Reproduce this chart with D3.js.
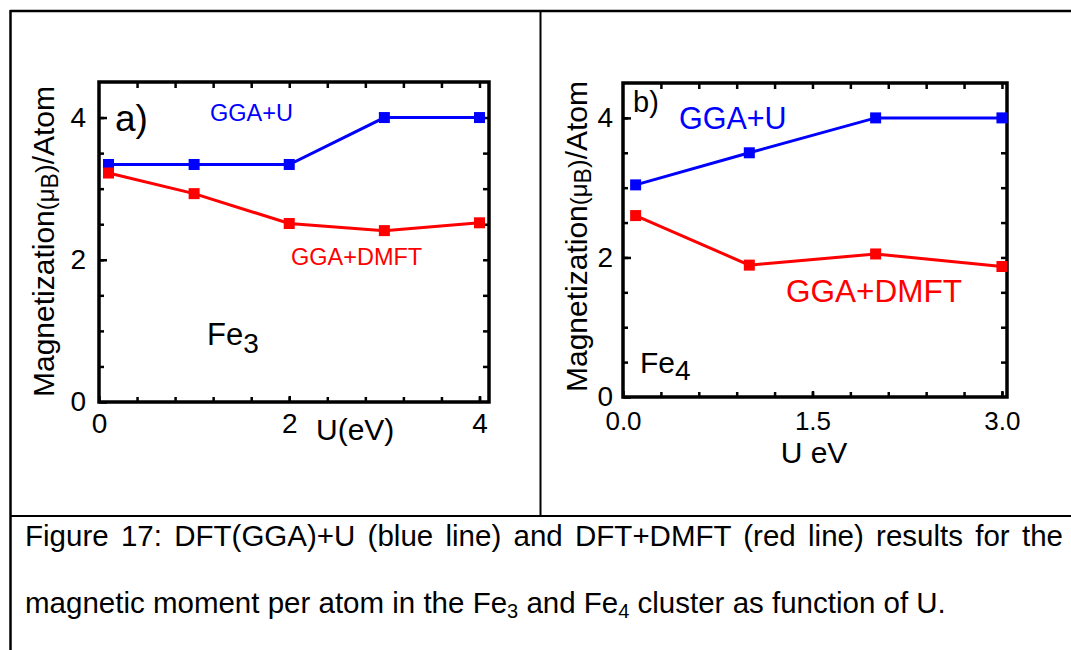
<!DOCTYPE html>
<html>
<head>
<meta charset="utf-8">
<script src="https://cdn.jsdelivr.net/npm/d3@7"></script>
<style>
  html, body { margin: 0; padding: 0; background: #fff; }
  svg { display: block; }
  text { font-family: "Liberation Sans", Arial, sans-serif; }
</style>
</head>
<body>
<svg id="fig" width="1071" height="650"></svg>
<script>
// U values (eV) and magnetic moments per atom (μB)
const uFe3 = [0.1, 1, 2, 3, 4];
const ggaUFe3 = [3.34, 3.34, 3.34, 4.0, 4.0];
const dmftFe3 = [3.22, 2.93, 2.51, 2.41, 2.52];

const uFe4 = [0.1, 1, 2, 3];
const ggaUFe4 = [3.04, 3.5, 4.0, 4.0];
const dmftFe4 = [2.6, 1.89, 2.05, 1.87];

// axis ticks
const xMajorFe3 = [0, 2, 4];
const xMinorFe3 = [0.4, 0.8, 1.2, 1.6, 2.0, 2.4, 2.8, 3.2, 3.6, 4.0];
const xMajorFe4 = [0, 1.5, 3.0];
const xMinorFe4 = [0.3, 0.6, 0.9, 1.2, 1.5, 1.8, 2.1, 2.4, 2.7, 3.0];
const yMajor = [0, 2, 4];
const yMinor = [0.5, 1, 1.5, 2, 2.5, 3, 3.5, 4];

const BLUE = "#0000ff", RED = "#ff0000";
const svg = d3.select("#fig");

// table frame around the figure and caption
const frame = svg.append("g").attr("stroke", "#000").attr("fill", "none");
frame.append("line").attr("x1", 10).attr("x2", 1071).attr("y1", 11).attr("y2", 11).attr("stroke-width", 2.5);
frame.append("line").attr("x1", 10.5).attr("x2", 10.5).attr("y1", 10).attr("y2", 650).attr("stroke-width", 2.5);
frame.append("line").attr("x1", 540.5).attr("x2", 540.5).attr("y1", 11).attr("y2", 516).attr("stroke-width", 2);
frame.append("line").attr("x1", 10).attr("x2", 1071).attr("y1", 516).attr("y2", 516).attr("stroke-width", 2);

function panel(opt) {
  const g = svg.append("g");
  const x = d3.scaleLinear().domain(opt.xDomain).range([opt.left, opt.right]);
  const y = d3.scaleLinear().domain([0, 4.5]).range([opt.bottom, opt.top]);

  const clean = sel => sel.select(".domain").remove();

  // minor ticks on all four sides, pointing inward
  g.append("g").attr("transform", `translate(0,${opt.bottom})`)
    .call(d3.axisBottom(x).tickValues(opt.xMinor).tickSize(-5).tickSizeOuter(0).tickFormat(""))
    .call(clean);
  g.append("g").attr("transform", `translate(0,${opt.top})`)
    .call(d3.axisTop(x).tickValues(opt.xMinor).tickSize(-6).tickSizeOuter(0).tickFormat(""))
    .call(clean);
  g.append("g").attr("transform", `translate(${opt.left},0)`)
    .call(d3.axisLeft(y).tickValues(yMinor).tickSize(-5).tickSizeOuter(0).tickFormat(""))
    .call(clean);
  g.append("g").attr("transform", `translate(${opt.right},0)`)
    .call(d3.axisRight(y).tickValues(yMinor).tickSize(-6).tickSizeOuter(0).tickFormat(""))
    .call(clean);

  // labelled axes
  const xa = g.append("g").attr("transform", `translate(0,${opt.bottom})`)
    .call(d3.axisBottom(x).tickValues(opt.xMajor).tickSize(-6).tickSizeOuter(0)
      .tickPadding(opt.xPad).tickFormat(opt.xFormat))
    .call(clean);
  xa.selectAll("text").attr("font-size", opt.xTickSize).attr("fill", "#000");
  const ya = g.append("g").attr("transform", `translate(${opt.left},0)`)
    .call(d3.axisLeft(y).tickValues(yMajor).tickSize(-8).tickSizeOuter(0)
      .tickPadding(opt.yPad).tickFormat(d3.format("d")))
    .call(clean);
  ya.selectAll("text").attr("font-size", 28).attr("fill", "#000");
  g.selectAll(".tick line").attr("stroke", "#000").attr("stroke-width", 2.5);
  g.selectAll(".tick text").attr("font-family", "Liberation Sans, Arial, sans-serif");

  // plot frame
  g.append("rect")
    .attr("x", opt.left).attr("y", opt.top)
    .attr("width", opt.right - opt.left).attr("height", opt.bottom - opt.top)
    .attr("fill", "none").attr("stroke", "#000").attr("stroke-width", 3.5);

  // data series
  const line = d3.line().x(d => x(d[0])).y(d => y(d[1]));
  [[opt.ggaU, BLUE], [opt.dmft, RED]].forEach(([vals, color]) => {
    const pts = opt.u.map((u, i) => [u, vals[i]]);
    g.append("path").datum(pts).attr("d", line)
      .attr("fill", "none").attr("stroke", color).attr("stroke-width", 3);
    g.selectAll(null).data(pts).enter().append("rect")
      .attr("x", d => x(d[0]) - 5.5).attr("y", d => y(d[1]) - 5.5)
      .attr("width", 11).attr("height", 11).attr("fill", color);
  });

  // y-axis title
  const yt = g.append("text")
    .attr("transform", `translate(${opt.yTitleX},${opt.bottom - 5}) rotate(-90)`)
    .attr("font-size", 30).attr("fill", "#000");
  yt.append("tspan").text("Magnetization");
  yt.append("tspan").attr("font-size", 24).text("(μ");
  yt.append("tspan").attr("font-size", 23).attr("dy", 4).text("B");
  yt.append("tspan").attr("font-size", 26).attr("dy", -4).text(")");
  yt.append("tspan").text("/Atom");

  return { g, x, y };
}

// a) Fe3 cluster
const pa = panel({
  left: 99, right: 489, top: 82, bottom: 402,
  xDomain: [0, 4.1], xMajor: xMajorFe3, xMinor: xMinorFe3,
  xFormat: d3.format("d"), xTickSize: 28, xPad: 11, yPad: 13,
  u: uFe3, ggaU: ggaUFe3, dmft: dmftFe3, yTitleX: 54
});
pa.g.append("text").attr("x", 115).attr("y", 131).attr("font-size", 37).text("a)");
pa.g.append("text").attr("x", 210).attr("y", 121).attr("font-size", 23.5).attr("fill", BLUE).text("GGA+U");
pa.g.append("text").attr("x", 291).attr("y", 265).attr("font-size", 23.5).attr("fill", RED).text("GGA+DMFT");
const fe3 = pa.g.append("text").attr("x", 207).attr("y", 345).attr("font-size", 31);
fe3.append("tspan").text("Fe");
fe3.append("tspan").attr("dy", 8).attr("font-size", 28).text("3");
pa.g.append("text").attr("x", 316).attr("y", 440).attr("font-size", 30).text("U(eV)");

// b) Fe4 cluster
const pb = panel({
  left: 623, right: 1007, top: 83, bottom: 397,
  xDomain: [0, 3.04], xMajor: xMajorFe4, xMinor: xMinorFe4,
  xFormat: d3.format(".1f"), xTickSize: 26, xPad: 15, yPad: 10,
  u: uFe4, ggaU: ggaUFe4, dmft: dmftFe4, yTitleX: 587
});
pb.g.append("text").attr("x", 633).attr("y", 112).attr("font-size", 29).text("b)");
pb.g.append("text").attr("x", 679).attr("y", 129).attr("font-size", 30.5).attr("fill", BLUE).text("GGA+U");
pb.g.append("text").attr("x", 786).attr("y", 302).attr("font-size", 31.5).attr("fill", RED).text("GGA+DMFT");
const fe4 = pb.g.append("text").attr("x", 640).attr("y", 373).attr("font-size", 30);
fe4.append("tspan").text("Fe");
fe4.append("tspan").attr("dy", 7).attr("font-size", 28).text("4");
pb.g.append("text").attr("x", 814).attr("y", 463).attr("text-anchor", "middle").attr("font-size", 30).text("U eV");

// caption: first line justified across the cell, second line left-aligned
const capLeft = 25, capRight = 1063, capSize = 29.5;
const line1 = svg.append("text").attr("x", capLeft).attr("y", 546).attr("font-size", capSize).attr("fill", "#000")
  .text("Figure 17: DFT(GGA)+U (blue line) and DFT+DMFT (red line) results for the");
const natural = line1.node().getComputedTextLength();
const gaps = line1.text().split(" ").length - 1;
line1.attr("word-spacing", Math.max(0, (capRight - capLeft - natural) / gaps));

const line2 = svg.append("text").attr("x", capLeft).attr("y", 613).attr("font-size", capSize).attr("fill", "#000");
line2.append("tspan").text("magnetic moment per atom in the Fe");
line2.append("tspan").attr("font-size", 20).attr("dy", 5).text("3");
line2.append("tspan").attr("dy", -5).text(" and Fe");
line2.append("tspan").attr("font-size", 20).attr("dy", 5).text("4");
line2.append("tspan").attr("dy", -5).text(" cluster as function of U.");
</script>
</body>
</html>
